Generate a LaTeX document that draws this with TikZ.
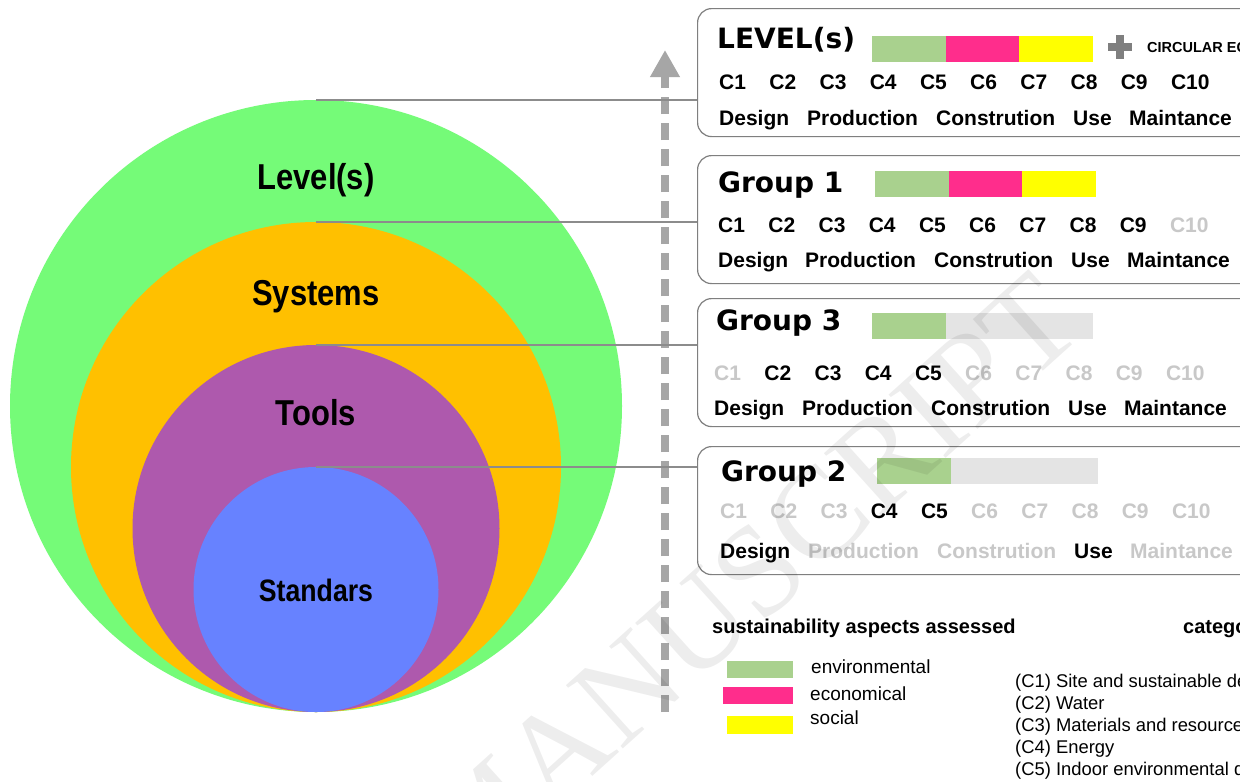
\documentclass[tikz,border=0pt]{standalone}
\usepackage{fontspec}
\setmainfont{Liberation Sans}
\newfontfamily\ringfont[FakeStretch=0.86]{Liberation Sans}
\newfontfamily\headfont{DejaVu Sans}
\newfontfamily\markfont{Liberation Serif}
\usepackage{tikz}
\usetikzlibrary{arrows.meta, positioning}
\definecolor{ringgreen}{HTML}{75FB78}
\definecolor{ringorange}{HTML}{FFC000}
\definecolor{ringpurple}{HTML}{AE59AD}
\definecolor{ringblue}{HTML}{6782FF}
\definecolor{envgreen}{HTML}{A9D18E}
\definecolor{ecopink}{HTML}{FF2D8C}
\definecolor{socyellow}{HTML}{FFFF00}
\definecolor{barback}{HTML}{E4E4E4}
\definecolor{dimtext}{HTML}{C8C8C8}
\definecolor{framegray}{HTML}{7F7F7F}
\definecolor{linkgray}{HTML}{8C8C8C}
\definecolor{arrowgray}{HTML}{A6A6A6}
\tikzstyle{ring} = [circle, inner sep=0pt, outer sep=0pt]
\tikzstyle{ringlabel} = [font=\ringfont\bfseries\fontsize{36}{40}\selectfont, text=black]
\tikzstyle{panel} = [rectangle, rounded corners=14pt, draw=framegray, line width=1.2pt, fill=white, minimum width=570pt, minimum height=128pt, anchor=north west]
\tikzstyle{paneltitle} = [font=\headfont\bfseries\fontsize{28}{32}\selectfont, anchor=base west, inner sep=0pt]
\tikzstyle{seg} = [rectangle, inner sep=0pt, outer sep=0pt, minimum width=73.7pt, minimum height=26pt, anchor=west]
\tikzstyle{crit} = [font=\bfseries\fontsize{21}{24}\selectfont, anchor=base west, inner sep=0pt]
\tikzstyle{swatch} = [rectangle, inner sep=0pt, minimum height=17pt, anchor=north west]
\tikzstyle{legendtext} = [font=\fontsize{19}{22}\selectfont, anchor=base west, inner sep=0pt]
\tikzstyle{cattext} = [font=\fontsize{18.4}{22}\selectfont, anchor=base west, inner sep=0pt]
\tikzstyle{link} = [draw=linkgray, line width=1.2pt]
\tikzstyle{bigarrow} = [line width=8pt, draw=arrowgray, dash pattern=on 17pt off 9pt, -{Triangle[length=27pt,width=28pt]}]

\begin{document}
\begin{tikzpicture}[x=1pt, y=-1pt]
    \useasboundingbox (0,0) rectangle (1240,782);
    \clip (0,0) rectangle (1240,782);
    \fill[white] (0,0) rectangle (1240,782);

    % Nested rings, all touching at the bottom
    \node[ring, fill=ringgreen, minimum size=612pt] (lvlring) at (316,406) {};
    \node[ring, fill=ringorange, minimum size=490pt] (sysring) at (316,467) {};
    \node[ring, fill=ringpurple, minimum size=367pt] (toolring) at (316,528.5) {};
    \node[ring, fill=ringblue, minimum size=245pt] (stdring) at (316,589.5) {};

    \node[ringlabel] (lvllabel) at (316,180) {Level(s)};
    \node[ringlabel] (syslabel) at (316,297) {Systems};
    \node[ringlabel] (toollabel) at (316,413) {Tools};
    \node[ringlabel, font=\ringfont\bfseries\fontsize{31}{36}\selectfont] (stdlabel) at (316,590) {Standars};

    % Rising dashed arrow
    \coordinate (arrowbase) at (665,712);
    \coordinate (arrowtip) at (665,50);
    \draw[bigarrow] (arrowbase) -- (arrowtip);

    % Panels
    \node[panel] (lvlbox) at (697,8) {};
    \node[panel] (grp1box) at (697,155) {};
    \node[panel] (grp3box) at (697,298) {};
    \node[panel] (grp2box) at (697,446) {};

    % Leader lines from ring tops to panels
    \draw[link] (lvlring.north) -- (lvlring.north -| lvlbox.west);
    \draw[link] (sysring.north) -- (sysring.north -| grp1box.west);
    \draw[link] (toolring.north) -- (toolring.north -| grp3box.west);
    \draw[link] (stdring.north) -- (stdring.north -| grp2box.west);

    % LEVEL(s)
    \node[paneltitle] (lvltitle) at (717,48) {LEVEL(s)};
    \node[seg, fill=envgreen] (lvlenv) at (872,49) {};
    \node[seg, fill=ecopink, right=0pt of lvlenv] (lvleco) {};
    \node[seg, fill=socyellow, right=0pt of lvleco] (lvlsoc) {};
    \fill[framegray] (1116,35) rectangle (1124,59);
    \fill[framegray] (1108,43) rectangle (1132,51);
    \node[crit, font=\bfseries\fontsize{14.5}{16}\selectfont] (circular) at (1147,52) {CIRCULAR ECONOMY};
    \foreach \i in {1,...,10}
        \node[crit] (lvlc\i) at ({719+50.2*(\i-1)},89.5) {C\i};
    \foreach \w/\xo [count=\k] in {Design/22, Production/110, Constrution/239, Use/376, Maintance/432}
        \node[crit] (lvlw\k) at (697+\xo,125.5) {\w};

    % Group 1
    \node[paneltitle] (grp1title) at (718,192.5) {Group 1};
    \node[seg, fill=envgreen] (grp1env) at (875,183.5) {};
    \node[seg, fill=ecopink, right=0pt of grp1env] (grp1eco) {};
    \node[seg, fill=socyellow, right=0pt of grp1eco] (grp1soc) {};
    \foreach \i in {1,...,10}{
        \ifnum\i<10 \def\tone{black}\else\def\tone{dimtext}\fi
        \node[crit, text=\tone] (grp1c\i) at ({718+50.2*(\i-1)},232.5) {C\i};
    }
    \foreach \w/\xo [count=\k] in {Design/21, Production/108, Constrution/237, Use/374, Maintance/430}
        \node[crit] (grp1w\k) at (697+\xo,267.5) {\w};

    % Group 3
    \node[paneltitle] (grp3title) at (716,330.5) {Group 3};
    \node[seg, fill=barback, minimum width=221pt] (grp3back) at (872,325.5) {};
    \node[seg, fill=envgreen] (grp3env) at (872,325.5) {};
    \foreach \i in {1,...,10}{
        \ifnum\i<2 \def\tone{dimtext}\else\ifnum\i>5 \def\tone{dimtext}\else\def\tone{black}\fi\fi
        \node[crit, text=\tone] (grp3c\i) at ({714+50.2*(\i-1)},380.5) {C\i};
    }
    \foreach \w/\xo [count=\k] in {Design/17, Production/105, Constrution/234, Use/371, Maintance/427}
        \node[crit] (grp3w\k) at (697+\xo,415.5) {\w};

    % Group 2
    \node[paneltitle] (grp2title) at (721,481.5) {Group 2};
    \node[seg, fill=barback, minimum width=221pt] (grp2back) at (877,471) {};
    \node[seg, fill=envgreen] (grp2env) at (877,471) {};
    \foreach \i in {1,...,10}{
        \ifnum\i<4 \def\tone{dimtext}\else\ifnum\i>5 \def\tone{dimtext}\else\def\tone{black}\fi\fi
        \node[crit, text=\tone] (grp2c\i) at ({720+50.2*(\i-1)},518.5) {C\i};
    }
    \foreach \w/\xo/\tone [count=\k] in {Design/23/black, Production/111/dimtext, Constrution/240/dimtext, Use/377/black, Maintance/433/dimtext}
        \node[crit, text=\tone] (grp2w\k) at (697+\xo,558.5) {\w};

    % Legend
    \node[crit, font=\bfseries\fontsize{20}{24}\selectfont] (aspects) at (712,633) {sustainability aspects assessed};
    \node[crit, font=\bfseries\fontsize{20}{24}\selectfont] (categories) at (1183,633) {categories};
    \node[swatch, fill=envgreen, minimum width=66pt] (envkey) at (727,661) {};
    \node[swatch, fill=ecopink, minimum width=70pt] (ecokey) at (723,687) {};
    \node[swatch, fill=socyellow, minimum width=66pt, minimum height=18pt] (sockey) at (727,716) {};
    \node[legendtext] (envname) at (811,673) {environmental};
    \node[legendtext] (econame) at (810,700) {economical};
    \node[legendtext] (socname) at (810,724) {social};

    \node[cattext] (cat1) at (1015,687) {(C1) Site and sustainable development};
    \node[cattext] (cat2) at (1015,709) {(C2) Water};
    \node[cattext] (cat3) at (1015,731) {(C3) Materials and resources};
    \node[cattext] (cat4) at (1015,753) {(C4) Energy};
    \node[cattext] (cat5) at (1015,775) {(C5) Indoor environmental quality};

    % Watermark
    \node[font=\markfont\fontsize{130}{130}\selectfont, text=black, opacity=0.07, rotate=42] (mark) at (748,580) {MANUSCRIPT};
\end{tikzpicture}
\end{document}
